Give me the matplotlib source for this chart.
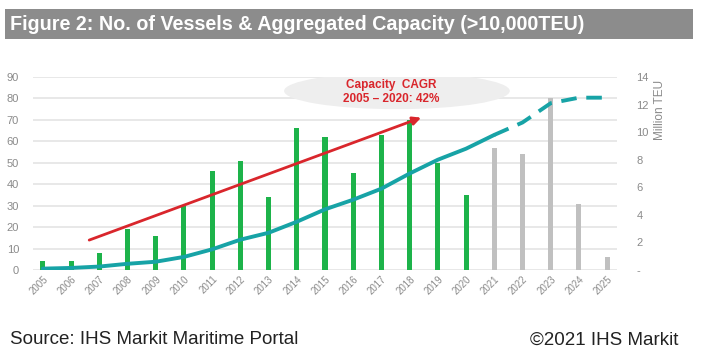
import matplotlib.pyplot as plt
from matplotlib.patches import Ellipse, Rectangle
from matplotlib.ticker import FuncFormatter

years = [str(y) for y in range(2005, 2026)]
vessels = [4, 4, 8, 19, 16, 30, 46, 51, 34, 66, 62, 45, 63, 70, 50, 35, 57, 54, 80, 31, 6]
n_actual = 16  # 2005-2020 delivered, rest on order
capacity = [0.1, 0.15, 0.25, 0.45, 0.6, 0.95, 1.5, 2.2, 2.7, 3.5, 4.4, 5.1, 5.9, 7.0, 8.0, 8.8,
            9.8, 10.7, 12.1, 12.5, 12.5]
n_cap_solid = 17  # solid up to 2021, dashed afterwards

GREEN = "#1db34a"
GREY_BAR = "#c0c0c0"
TEAL = "#17a3a6"
RED = "#d9262c"
TICK = "#8a8a8a"

plt.rcParams["font.family"] = ["Liberation Sans", "DejaVu Sans"]

fig = plt.figure(figsize=(7.25, 3.56), dpi=100)
W, H = 725, 356

# title bar
fig.patches.append(Rectangle((5 / W, 1 - 39 / H), 688 / W, 30 / H, transform=fig.transFigure,
                             facecolor="#8c8c8c", edgecolor="none", zorder=0))
fig.text(10 / W, 1 - 24 / H, "Figure 2: No. of Vessels & Aggregated Capacity (>10,000TEU)",
         color="white", fontsize=14.2, fontweight="bold", va="center", ha="left")

ax = fig.add_axes([33 / W, 1 - 270 / H, 584 / W, 193 / H])
x = list(range(len(years)))
colors = [GREEN if i < n_actual else GREY_BAR for i in x]
ax.bar(x, vessels, width=0.18, color=colors, zorder=3)

ax.set_xlim(-0.35, len(years) - 1 + 0.35)
ax.set_ylim(0, 90)
ax.set_yticks(range(0, 91, 10))
ax.yaxis.grid(True, color="#e4e4e4", linewidth=1.2, zorder=0)
ax.set_axisbelow(True)
for s in ax.spines.values():
    s.set_visible(False)
ax.tick_params(axis="y", length=0, pad=10, labelsize=8, labelcolor=TICK)
ax.tick_params(axis="x", length=0, pad=3, labelsize=7, labelcolor=TICK)
ax.set_xticks(x)
ax.set_xticklabels(years, rotation=45, ha="right", rotation_mode="anchor")

# shaded ellipse behind CAGR label
ax.add_patch(Ellipse((12.55, 83.5), 8.0, 17, facecolor="#eeeeee", edgecolor="none", zorder=1))
ax.annotate("", xy=(13.5, 71.5), xytext=(1.55, 13.5),
            arrowprops=dict(arrowstyle="-|>", color=RED, lw=2, mutation_scale=12), zorder=5)
ax.text(12.35, 83, "Capacity  CAGR\n2005 \u2013 2020: 42%", color=RED, fontsize=8.5,
        fontweight="bold", ha="center", va="center", linespacing=1.3, zorder=6)

ax2 = ax.twinx()
ax2.set_ylim(0, 14)
ax2.set_yticks(range(0, 15, 2))
ax2.yaxis.set_major_formatter(FuncFormatter(lambda v, p: "-" if v == 0 else f"{v:.0f}"))
ax2.tick_params(axis="y", length=0, pad=14, labelsize=8, labelcolor=TICK)
for s in ax2.spines.values():
    s.set_visible(False)
ax2.plot(x[:n_cap_solid], capacity[:n_cap_solid], color=TEAL, lw=2.8, zorder=4,
         solid_capstyle="round")
ax2.plot(x[n_cap_solid - 1:], capacity[n_cap_solid - 1:], color=TEAL, lw=2.8,
         dashes=(4, 2.5), zorder=4)
fig.text(660 / W, 1 - 80 / H, "Million TEU", rotation=90, color=TICK, fontsize=8.5,
         ha="center", va="top")

fig.text(10 / W, 1 - 340 / H, "Source: IHS Markit Maritime Portal", fontsize=13.5,
         color="#222222", va="center", ha="left")
fig.text(678 / W, 1 - 340 / H, "\u00a92021 IHS Markit", fontsize=13.5,
         color="#222222", va="center", ha="right")

fig.savefig("out.png", dpi=100, facecolor="white")
